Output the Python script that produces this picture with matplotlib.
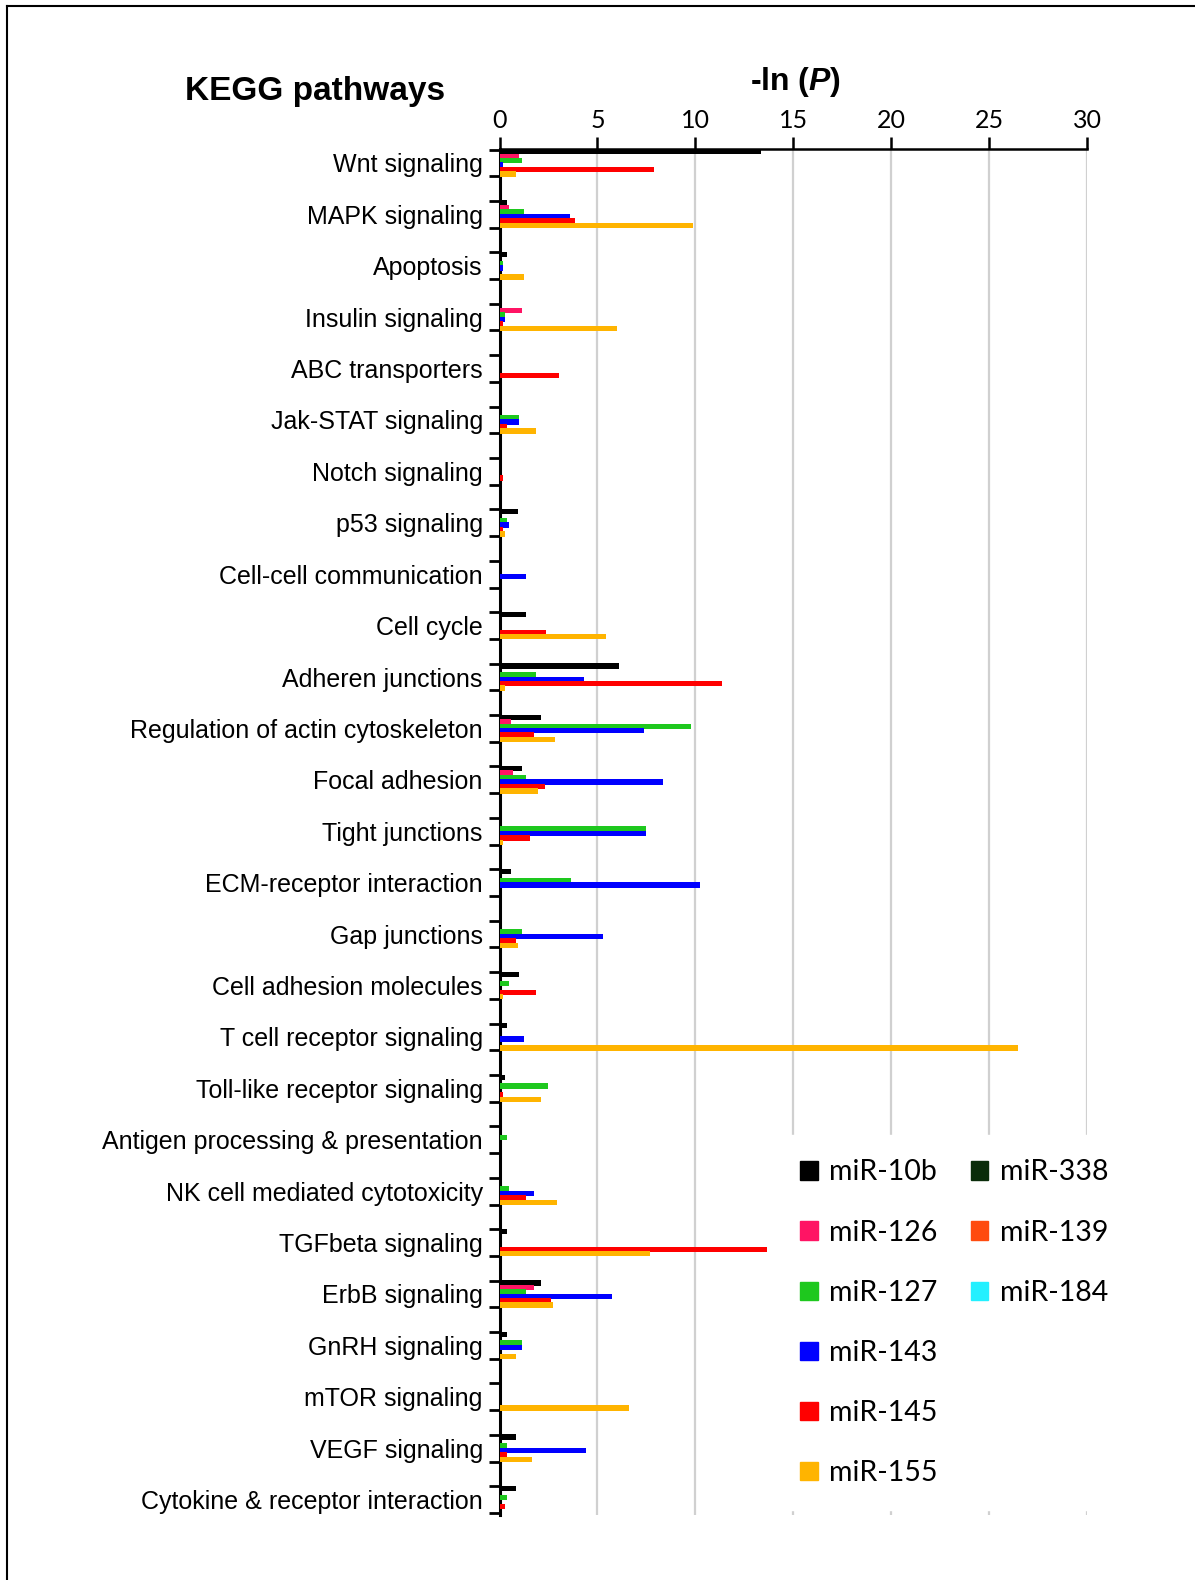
import matplotlib
matplotlib.use("Agg")
import matplotlib.pyplot as plt
from matplotlib.patches import Patch
from matplotlib.lines import Line2D
import numpy as np

pathways = ["Wnt signaling", "MAPK signaling", "Apoptosis", "Insulin signaling",
            "ABC transporters", "Jak-STAT signaling", "Notch signaling", "p53 signaling",
            "Cell-cell communication", "Cell cycle", "Adheren junctions",
            "Regulation of actin cytoskeleton", "Focal adhesion", "Tight junctions",
            "ECM-receptor interaction", "Gap junctions", "Cell adhesion molecules",
            "T cell receptor signaling", "Toll-like receptor signaling",
            "Antigen processing & presentation", "NK cell mediated cytotoxicity",
            "TGFbeta signaling", "ErbB signaling", "GnRH signaling", "mTOR signaling",
            "VEGF signaling", "Cytokine & receptor interaction"]

# -ln(P) values, one list per miRNA, same order as pathways
mir10b = [13.37, 0.39, 0.39, 0.0, 0.0, 0.08, 0.08, 0.94, 0.0, 1.33, 6.1, 2.1, 1.14, 0.05,
          0.6, 0.0, 1.02, 0.39, 0.26, 0.0, 0.05, 0.39, 2.1, 0.39, 0.05, 0.82, 0.82]
mir126 = [1.02, 0.51, 0.0, 1.14, 0.0, 0.0, 0.0, 0.0, 0.0, 0.0, 0.0, 0.6, 0.68, 0.0,
          0.0, 0.0, 0.0, 0.0, 0.0, 0.0, 0.0, 0.0, 1.75, 0.0, 0.0, 0.0, 0.0]
mir127 = [1.14, 1.23, 0.2, 0.29, 0.0, 1.02, 0.0, 0.39, 0.0, 0.0, 1.87, 9.8, 1.33, 7.46,
          3.66, 1.14, 0.51, 0.05, 2.5, 0.39, 0.51, 0.05, 1.33, 1.14, 0.05, 0.39, 0.39]
mir143 = [0.17, 3.58, 0.2, 0.3, 0.05, 1.02, 0.0, 0.51, 1.33, 0.05, 4.31, 7.36, 8.33, 7.46,
          10.22, 5.26, 0.05, 1.23, 0.05, 0.0, 1.75, 0.05, 5.76, 1.14, 0.05, 4.4, 0.05]
mir145 = [7.89, 3.88, 0.0, 0.17, 3.03, 0.39, 0.2, 0.17, 0.05, 2.39, 11.38, 1.75, 2.3, 1.57,
          0.05, 0.82, 1.87, 0.05, 0.2, 0.0, 1.33, 13.68, 2.61, 0.05, 0.05, 0.39, 0.29]
mir155 = [0.82, 9.88, 1.23, 6.0, 0.0, 1.87, 0.0, 0.3, 0.0, 5.45, 0.29, 2.83, 1.96, 0.2,
          0.0, 0.94, 0.2, 26.5, 2.1, 0.0, 2.93, 7.7, 2.73, 0.82, 6.63, 1.67, 0.05]
mir338 = [0.0] * 27
mir139 = [0.0] * 27
mir184 = [0.0] * 27

shown = [("miR-10b", mir10b, "#000000"), ("miR-126", mir126, "#ff1464"),
         ("miR-127", mir127, "#1ec81e"), ("miR-143", mir143, "#0000ff"),
         ("miR-145", mir145, "#ff0000"), ("miR-155", mir155, "#ffb400")]
others = [("miR-338", mir338, "#0a2d0a"), ("miR-139", mir139, "#ff4b0f"),
          ("miR-184", mir184, "#23f0ff")]

plt.rcParams["font.family"] = ["Liberation Sans", "DejaVu Sans"]
plt.rcParams["mathtext.fontset"] = "custom"
plt.rcParams["mathtext.it"] = "Liberation Sans:italic:bold"
plt.rcParams["mathtext.rm"] = "Liberation Sans:bold"

fig = plt.figure(figsize=(11.95, 15.8), dpi=100)
ax = fig.add_axes([0.418, 0.0411, 0.4916, 0.8646])

y = np.arange(len(pathways))
block = 0.52
h = block / len(shown)
for k, (name, vals, col) in enumerate(shown):
    ax.barh(y - block / 2 + h / 2 + k * h, vals, height=h * 1.2, color=col,
            label=name, zorder=3)
for name, vals, col in others:
    ax.barh(y, vals, height=h, color=col, label=name, zorder=3)

ax.set_xlim(0, 30)
ax.set_ylim(26.3, -0.27)
ax.xaxis.tick_top()
ax.set_xticks([0, 5, 10, 15, 20, 25, 30])
ax.tick_params(axis="x", length=9, width=1.8, labelsize=18, pad=3)
for lab in ax.get_xticklabels():
    lab.set_fontfamily("Lato")
ax.set_yticks(y)
ax.set_yticklabels(pathways, fontsize=18)
ax.tick_params(axis="y", length=0, pad=12)
# category boundary ticks
ax.set_yticks(np.concatenate([y - block / 2, y + block / 2]), minor=True)
ax.tick_params(axis="y", which="minor", length=8, width=2)
ax.grid(axis="x", color="#d0d0d0", linewidth=1.6, zorder=0)
ax.set_axisbelow(True)
for s in ["right", "bottom"]:
    ax.spines[s].set_visible(False)
ax.spines["left"].set_linewidth(2.2)
ax.spines["top"].set_linewidth(1.8)

fig.text(0.264, 0.942, "KEGG pathways", fontsize=24, fontweight="bold", ha="center", va="center")
fig.text(0.666, 0.948, r"-ln ($P$)", fontsize=23, fontweight="bold", ha="center", va="center")

handles = [Patch(color=c) for _, _, c in shown] + [Patch(color=c) for _, _, c in others]
labels = [n for n, _, _ in shown] + [n for n, _, _ in others]
blank = Patch(color="none")
handles += [blank] * 3
labels += [""] * 3
leg = fig.legend(handles, labels, ncol=2, loc="upper left", bbox_to_anchor=(0.6375, 0.2905),
                 frameon=True, facecolor="white", edgecolor="white", framealpha=1,
                 prop={"family": "Lato", "size": 20.5}, handlelength=0.62, handleheight=0.62,
                 handletextpad=0.4, labelspacing=1.2, columnspacing=1.15, borderpad=0.85)
leg.set_zorder(10)

fig.add_artist(Line2D([0.006, 0.006], [0.0, 0.996], color="black", linewidth=1.5))
fig.add_artist(Line2D([0.006, 1.0], [0.996, 0.996], color="black", linewidth=1.5))

fig.savefig("out.png", dpi=100, facecolor="white")
